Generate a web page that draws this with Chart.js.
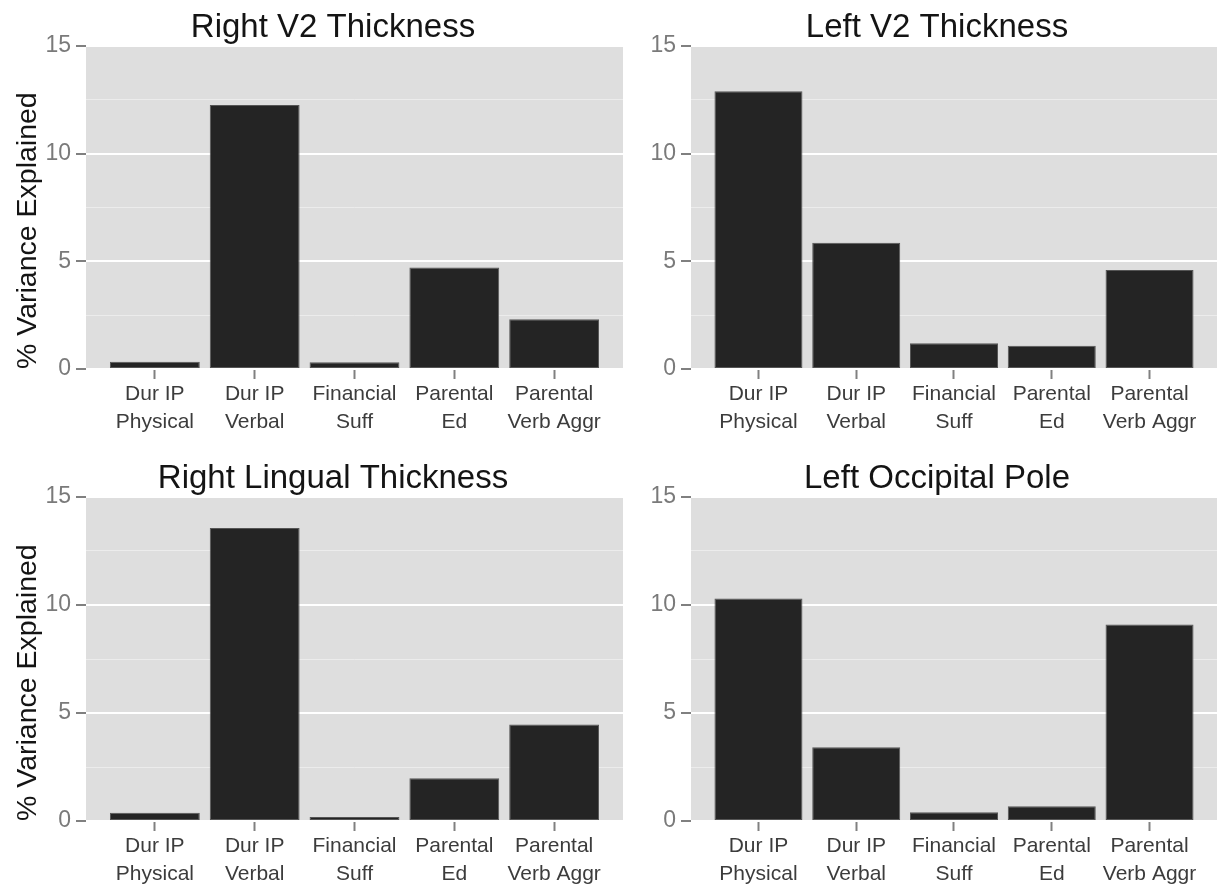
<!DOCTYPE html>
<html>
<head>
<meta charset="utf-8">
<script src="https://cdn.jsdelivr.net/npm/chart.js@4.4.0/dist/chart.umd.min.js"></script>
<style>
  html, body { margin: 0; padding: 0; background: #ffffff; }
  #wrap { position: relative; width: 1217px; height: 887px; overflow: hidden; }
  canvas { position: absolute; }
</style>
</head>
<body>
<div id="wrap">
  <canvas id="c1" width="623" height="443" style="left:0px;top:0px"></canvas>
  <canvas id="c2" width="609" height="443" style="left:608px;top:0px"></canvas>
  <canvas id="c3" width="623" height="444" style="left:0px;top:443px"></canvas>
  <canvas id="c4" width="609" height="444" style="left:608px;top:443px"></canvas>
</div>
<script>
// ---- data ----
const categories = ["Dur IP Physical", "Dur IP Verbal", "Financial Suff", "Parental Ed", "Parental Verb Aggr"];
const categoryLabels = [["Dur IP", "Physical"], ["Dur IP", "Verbal"], ["Financial", "Suff"], ["Parental", "Ed"], ["Parental", "Verb Aggr"]];
const panelTitles = ["Right V2 Thickness", "Left V2 Thickness", "Right Lingual Thickness", "Left Occipital Pole"];
const rightV2 = [0.34, 12.26, 0.31, 4.71, 2.31];
const leftV2 = [12.9, 5.86, 1.2, 1.08, 4.6];
const rightLingual = [0.38, 13.56, 0.18, 1.98, 4.47];
const leftOccipital = [10.3, 3.41, 0.4, 0.68, 9.1];
const yTickValues = [0, 5, 10, 15];
const yAxisTitle = "% Variance Explained";

const FONT = "'Liberation Sans', 'Helvetica Neue', Helvetica, Arial, sans-serif";

const panelBg = {
  id: 'panelBg',
  beforeDraw(chart) {
    const a = chart.chartArea, ctx = chart.ctx;
    ctx.save();
    ctx.fillStyle = '#dedede';
    ctx.fillRect(a.left, a.top, a.right - a.left, a.bottom - a.top);
    ctx.restore();
  }
};

const panelTitle = {
  id: 'panelTitle',
  afterDraw(chart, args, opts) {
    const ctx = chart.ctx;
    ctx.save();
    ctx.font = '33px ' + FONT;
    ctx.fillStyle = '#141414';
    ctx.textAlign = 'center';
    ctx.textBaseline = 'alphabetic';
    ctx.fillText(opts.text, opts.x, opts.y);
    ctx.restore();
  }
};

function makeChart(id, values, title, cfg) {
  const pts = values.map((v, i) => ({ x: i + 1, y: v }));
  return new Chart(document.getElementById(id), {
    type: 'bar',
    data: {
      datasets: [{
        data: pts,
        backgroundColor: '#242424',
        borderColor: '#555555',
        borderWidth: 1,
        borderSkipped: false,
        barPercentage: 0.9,
        categoryPercentage: 1.0
      }]
    },
    options: {
      responsive: false,
      animation: false,
      devicePixelRatio: 1,
      layout: { padding: { top: cfg.top, left: 0, right: 0, bottom: 0 } },
      plugins: {
        legend: { display: false },
        tooltip: { enabled: false },
        title: { display: false },
        panelTitle: { text: title, x: cfg.titleX, y: cfg.titleY }
      },
      scales: {
        x: {
          type: 'linear',
          offset: false,
          min: 0.31,
          max: 5.69,
          afterBuildTicks: (s) => { s.ticks = categories.map((c, i) => ({ value: i + 1 })); },
          afterFit: (s) => { s.height = cfg.xh; s.paddingLeft = 0; s.paddingRight = 0; },
          grid: { offset: false, drawOnChartArea: false, drawTicks: true, tickLength: 10, tickColor: '#808080', tickWidth: 2 },
          border: { display: false },
          ticks: {
            autoSkip: false,
            maxRotation: 0,
            minRotation: 0,
            padding: 2,
            color: '#3c3c3c',
            font: { family: FONT, size: 21, lineHeight: 1.3 },
            callback: (v, i) => categoryLabels[i]
          }
        },
        y: {
          min: 0,
          max: 15,
          afterBuildTicks: (s) => {
            const t = [];
            for (let v = 0; v <= 15; v += 2.5) t.push({ value: v });
            s.ticks = t;
          },
          afterFit: (s) => { s.width = cfg.yw; },
          grid: {
            color: (c) => (yTickValues.includes(c.tick.value) ? '#ffffff' : '#ececec'),
            lineWidth: (c) => (yTickValues.includes(c.tick.value) ? 2 : 1),
            tickColor: (c) => (yTickValues.includes(c.tick.value) ? '#808080' : 'rgba(0,0,0,0)'),
            tickLength: 10,
            tickWidth: 2
          },
          border: { display: false },
          ticks: {
            autoSkip: false,
            padding: 5,
            color: '#7a7a7a',
            font: { family: FONT, size: 23 },
            callback: (v) => (yTickValues.includes(v) ? String(v) : '')
          },
          title: {
            display: cfg.showYTitle,
            text: yAxisTitle,
            align: 'start',
            color: '#141414',
            font: { family: FONT, size: 28.5, lineHeight: 1.2 },
            padding: { top: 11, bottom: 0 }
          }
        }
      }
    },
    plugins: [panelBg, panelTitle]
  });
}

makeChart('c1', rightV2, panelTitles[0], { top: 46, xh: 74, yw: 86, showYTitle: true, titleX: 333, titleY: 37 });
makeChart('c2', leftV2, panelTitles[1], { top: 46, xh: 74, yw: 83, showYTitle: false, titleX: 329, titleY: 37 });
makeChart('c3', rightLingual, panelTitles[2], { top: 54, xh: 66, yw: 86, showYTitle: true, titleX: 333, titleY: 45 });
makeChart('c4', leftOccipital, panelTitles[3], { top: 54, xh: 66, yw: 83, showYTitle: false, titleX: 329, titleY: 45 });
</script>
</body>
</html>
